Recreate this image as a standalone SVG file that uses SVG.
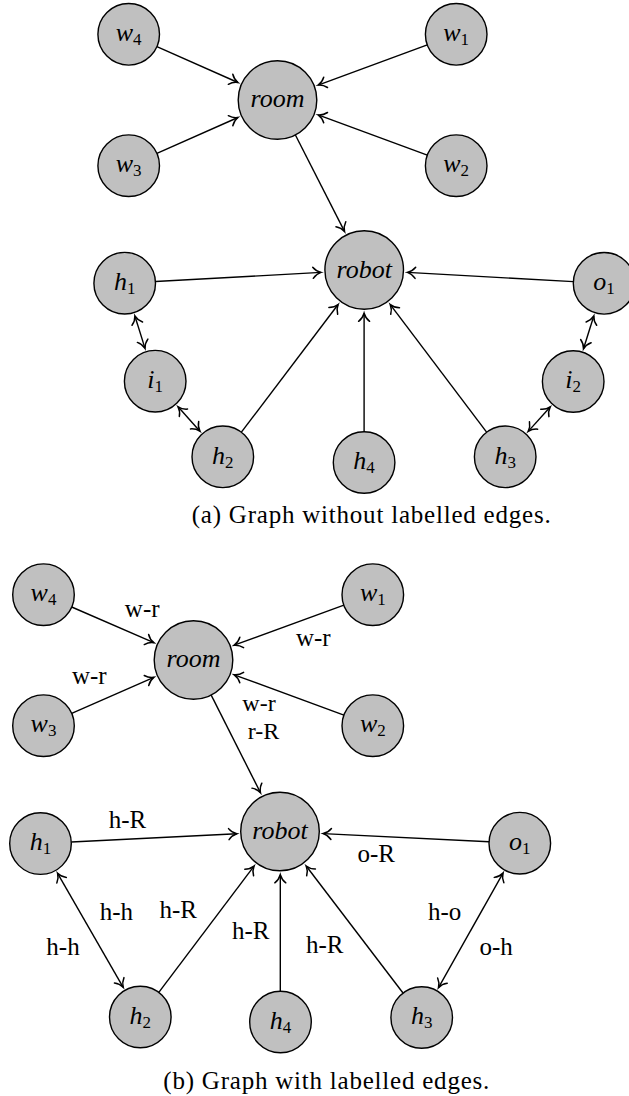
<svg xmlns="http://www.w3.org/2000/svg" width="629" height="1096" viewBox="0 0 629 1096">
<style>
.nd{fill:#c0c0c0;stroke:#000;stroke-width:1.4}
.lb{font-family:"Liberation Serif","Times New Roman",serif;font-style:italic;font-size:26px;fill:#000;text-anchor:middle}
.sb{font-style:normal;font-size:17px}
.el{font-family:"Liberation Serif","Times New Roman",serif;font-size:25px;fill:#000;text-anchor:middle}
.cap{font-family:"Liberation Serif","Times New Roman",serif;font-size:25px;fill:#000}
.e{stroke:#000;stroke-width:1.4;fill:none;marker-end:url(#tip)}
.d{marker-start:url(#tip)}
</style>
<defs>
<marker id="tip" viewBox="-10 -7 11 14" refX="0" refY="0" markerWidth="11" markerHeight="14" markerUnits="userSpaceOnUse" orient="auto-start-reverse" overflow="visible">
<path d="M-8,-5.5 C-5.5,-2.2 -2.2,-0.6 0,0 C-2.2,0.6 -5.5,2.2 -8,5.5" fill="none" stroke="#000" stroke-width="1.5" stroke-linecap="round"/>
</marker>
</defs>

<!-- (a) connectors -->
<g id="a-edges">
<line class="e" x1="156.9" y1="46.7" x2="237.9" y2="82.5"/>
<line class="e" x1="427.3" y1="44.9" x2="318.1" y2="85.1"/>
<line class="e" x1="156.9" y1="153.3" x2="237.9" y2="117.5"/>
<line class="e" x1="427.3" y1="155.1" x2="318.1" y2="114.9"/>
<line class="e" x1="295.4" y1="135.0" x2="344.5" y2="231.4"/>
<line class="e" x1="155.5" y1="281.5" x2="321.0" y2="272.4"/>
<line class="e" x1="241.4" y1="432.2" x2="338.1" y2="304.5"/>
<line class="e" x1="364.1" y1="431.7" x2="364.1" y2="313.3"/>
<line class="e" x1="486.6" y1="432.2" x2="390.3" y2="304.6"/>
<line class="e" x1="573.3" y1="281.6" x2="407.4" y2="272.4"/>
<line class="e d" x1="134.9" y1="316.0" x2="145.0" y2="348.4"/>
<line class="e d" x1="178.1" y1="406.8" x2="199.9" y2="431.2"/>
<line class="e d" x1="593.8" y1="316.0" x2="583.5" y2="348.8"/>
<line class="e d" x1="550.2" y1="407.0" x2="528.2" y2="431.4"/>
</g>

<!-- (a) nodes -->
<g id="a-w4"><circle class="nd" cx="128.7" cy="34.3" r="30.8"/><text class="lb" x="128.7" y="41">w<tspan class="sb" dy="4">4</tspan></text></g>
<g id="a-w1"><circle class="nd" cx="456.2" cy="34.3" r="30.8"/><text class="lb" x="456.2" y="41">w<tspan class="sb" dy="4">1</tspan></text></g>
<g id="a-room"><circle class="nd" cx="277.5" cy="100" r="39.3"/><text class="lb" x="277.5" y="107">room</text></g>
<g id="a-w3"><circle class="nd" cx="128.7" cy="165.7" r="30.8"/><text class="lb" x="128.7" y="172.4">w<tspan class="sb" dy="4">3</tspan></text></g>
<g id="a-w2"><circle class="nd" cx="456.2" cy="165.7" r="30.8"/><text class="lb" x="456.2" y="172.4">w<tspan class="sb" dy="4">2</tspan></text></g>
<g id="a-robot"><circle class="nd" cx="364.2" cy="270" r="39.3"/><text class="lb" x="364.2" y="277.5">robot</text></g>
<g id="a-h1"><circle class="nd" cx="124.7" cy="283.2" r="30.8"/><text class="lb" x="124.7" y="290">h<tspan class="sb" dy="4">1</tspan></text></g>
<g id="a-i1"><circle class="nd" cx="155.2" cy="381.2" r="30.8"/><text class="lb" x="155.2" y="388">i<tspan class="sb" dy="4">1</tspan></text></g>
<g id="a-h2"><circle class="nd" cx="222.8" cy="456.8" r="30.8"/><text class="lb" x="222.8" y="463.6">h<tspan class="sb" dy="4">2</tspan></text></g>
<g id="a-h4"><circle class="nd" cx="364.1" cy="462.5" r="30.8"/><text class="lb" x="364.1" y="469.3">h<tspan class="sb" dy="4">4</tspan></text></g>
<g id="a-h3"><circle class="nd" cx="505.2" cy="456.8" r="30.8"/><text class="lb" x="505.2" y="463.6">h<tspan class="sb" dy="4">3</tspan></text></g>
<g id="a-i2"><circle class="nd" cx="573.2" cy="381.5" r="30.8"/><text class="lb" x="573.2" y="388.3">i<tspan class="sb" dy="4">2</tspan></text></g>
<g id="a-o1"><circle class="nd" cx="604.1" cy="283.3" r="30.8"/><text class="lb" x="604.1" y="290">o<tspan class="sb" dy="4">1</tspan></text></g>

<text class="cap" x="191.7" y="523" textLength="359" lengthAdjust="spacing">(a) Graph without labelled edges.</text>

<!-- (b) connectors -->
<g id="b-edges">
<line class="e" x1="71.7" y1="607.0" x2="153.8" y2="642.7"/>
<line class="e" x1="343.9" y1="605.2" x2="234.2" y2="645.2"/>
<line class="e" x1="71.7" y1="713.4" x2="153.8" y2="677.3"/>
<line class="e" x1="343.9" y1="715.2" x2="234.2" y2="674.8"/>
<line class="e" x1="211.2" y1="695.1" x2="260.5" y2="792.8"/>
<line class="e" x1="71.3" y1="842.0" x2="236.8" y2="833.7"/>
<line class="e d" x1="57.6" y1="873.3" x2="123.2" y2="987.3"/>
<line class="e" x1="158.8" y1="992.4" x2="254.0" y2="866.1"/>
<line class="e" x1="280.3" y1="991.2" x2="280.3" y2="874.8"/>
<line class="e" x1="403.0" y1="993.0" x2="306.2" y2="866.0"/>
<line class="e" x1="489.0" y1="841.7" x2="323.2" y2="833.6"/>
<line class="e d" x1="503.0" y1="873.1" x2="438.5" y2="987.6"/>
<text class="el" x="142.2" y="616.7">w-r</text>
<text class="el" x="313.3" y="645.7">w-r</text>
<text class="el" x="89.3" y="684">w-r</text>
<text class="el" x="259" y="710.5" style="font-size:24px">w-r</text>
<text class="el" x="263.5" y="738.5" style="font-size:24px">r-R</text>
<text class="el" x="127.5" y="827.5">h-R</text>
<text class="el" x="116.3" y="920">h-h</text>
<text class="el" x="63" y="955">h-h</text>
<text class="el" x="178.3" y="918.3">h-R</text>
<text class="el" x="250.8" y="939.3">h-R</text>
<text class="el" x="376.2" y="861.7">o-R</text>
<text class="el" x="444.7" y="920">h-o</text>
<text class="el" x="496.2" y="955">o-h</text>
<text class="el" x="324.7" y="953.3">h-R</text>
</g>

<!-- (b) nodes -->
<g id="b-w4"><circle class="nd" cx="43.5" cy="594.7" r="30.8"/><text class="lb" x="43.5" y="601.4">w<tspan class="sb" dy="4">4</tspan></text></g>
<g id="b-w1"><circle class="nd" cx="372.8" cy="594.7" r="30.8"/><text class="lb" x="372.8" y="601.4">w<tspan class="sb" dy="4">1</tspan></text></g>
<g id="b-room"><circle class="nd" cx="193.5" cy="660" r="39.3"/><text class="lb" x="193.5" y="667">room</text></g>
<g id="b-w3"><circle class="nd" cx="43.5" cy="725.7" r="30.8"/><text class="lb" x="43.5" y="732.4">w<tspan class="sb" dy="4">3</tspan></text></g>
<g id="b-w2"><circle class="nd" cx="372.8" cy="725.7" r="30.8"/><text class="lb" x="372.8" y="732.4">w<tspan class="sb" dy="4">2</tspan></text></g>
<g id="b-robot"><circle class="nd" cx="280" cy="831.5" r="39.3"/><text class="lb" x="280" y="839">robot</text></g>
<g id="b-h1"><circle class="nd" cx="40.5" cy="843.6" r="30.8"/><text class="lb" x="40.5" y="850.4">h<tspan class="sb" dy="4">1</tspan></text></g>
<g id="b-h2"><circle class="nd" cx="140.3" cy="1017" r="30.8"/><text class="lb" x="140.3" y="1023.8">h<tspan class="sb" dy="4">2</tspan></text></g>
<g id="b-h4"><circle class="nd" cx="280.5" cy="1022" r="30.8"/><text class="lb" x="280.5" y="1028.8">h<tspan class="sb" dy="4">4</tspan></text></g>
<g id="b-h3"><circle class="nd" cx="421.7" cy="1017.5" r="30.8"/><text class="lb" x="421.7" y="1024.3">h<tspan class="sb" dy="4">3</tspan></text></g>
<g id="b-o1"><circle class="nd" cx="519.8" cy="843.2" r="30.8"/><text class="lb" x="519.8" y="850">o<tspan class="sb" dy="4">1</tspan></text></g>

<text class="cap" x="163.3" y="1089" textLength="326" lengthAdjust="spacing">(b) Graph with labelled edges.</text>
</svg>
